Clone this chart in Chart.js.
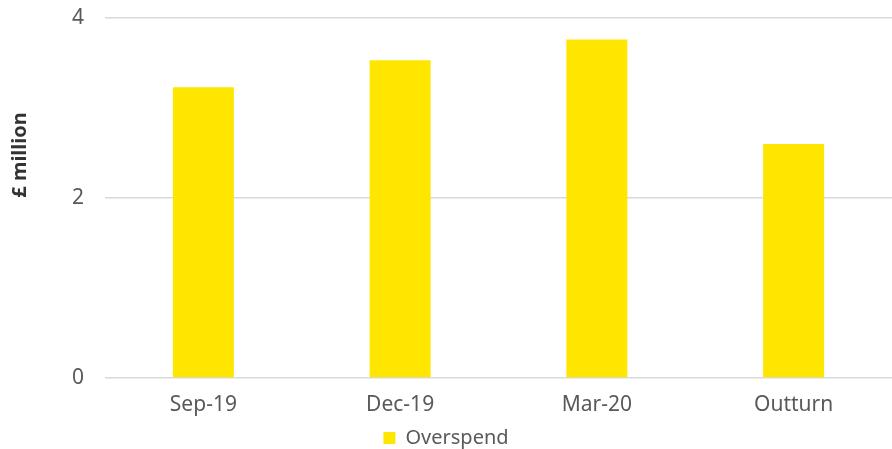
<!DOCTYPE html>
<html>
<head>
<meta charset="utf-8">
<script src="https://cdn.jsdelivr.net/npm/chart.js@4"></script>
<style>
  html, body { margin: 0; padding: 0; background: #fff; }
  #wrap { width: 892px; height: 449px; }
</style>
</head>
<body>
<div id="wrap"><canvas id="overspendChart"></canvas></div>
<script>
const categories = ['Sep-19', 'Dec-19', 'Mar-20', 'Outturn'];
const overspend = [3.23, 3.53, 3.76, 2.6];
const yTicks = [0, 2, 4];
const yTitle = '£ million';

const textGrey = '#595959';
const fontFamily = "'Noto Sans', 'DejaVu Sans', sans-serif";

// y title sits higher than the axis centre in the original, so draw it by hand
const yTitlePlugin = {
    id: 'yTitle',
    afterDraw(chart) {
        const c = chart.ctx;
        c.save();
        c.translate(20, 155);
        c.rotate(-Math.PI / 2);
        c.fillStyle = '#333333';
        c.font = `bold 20px ${fontFamily}`;
        c.textAlign = 'center';
        c.textBaseline = 'middle';
        c.fillText(yTitle, 0, 0);
        c.restore();
    },
};

// keep the legend strip short so the plot reaches down like the original
const legendHeightPlugin = {
    id: 'legendHeight',
    beforeInit(chart) {
        const origFit = chart.legend.fit;
        chart.legend.fit = function () {
            origFit.bind(chart.legend)();
            this.height = 31;
        };
    },
};

const ctx = document.getElementById('overspendChart').getContext('2d');

new Chart(ctx, {
    type: 'bar',
    data: {
        labels: categories,
        datasets: [
            {
                label: 'Overspend',
                data: overspend,
                backgroundColor: '#FFE600',
                categoryPercentage: 1,
                barPercentage: 0.31,
            },
        ],
    },
    plugins: [yTitlePlugin, legendHeightPlugin],
    options: {
        responsive: true,
        maintainAspectRatio: false,
        animation: false,
        layout: { padding: 0 },
        plugins: {
            tooltip: { enabled: false },
            legend: {
                position: 'bottom',
                labels: {
                    color: textGrey,
                    font: { family: fontFamily, size: 20 },
                    boxWidth: 12,
                    boxHeight: 12,
                    padding: 10,
                    useBorderRadius: false,
                },
            },
        },
        scales: {
            x: {
                afterFit: (axis) => { axis.height = 40; },
                grid: { display: false },
                border: { display: false },
                ticks: {
                    color: textGrey,
                    font: { family: fontFamily, size: 21, lineHeight: 1 },
                    padding: 9,
                },
            },
            y: {
                min: 0,
                max: 4,
                afterBuildTicks: (axis) => {
                    axis.ticks = yTicks.map(v => ({ value: v }));
                },
                afterFit: (axis) => {
                    axis.width = 105;
                    axis.paddingTop = 18;
                    axis.paddingBottom = 0;
                },
                grid: {
                    color: '#d9d9d9',
                    lineWidth: 1.5,
                    drawTicks: false,
                },
                border: { display: false },
                ticks: {
                    color: textGrey,
                    font: { family: fontFamily, size: 21, lineHeight: 1 },
                    padding: 21,
                },
            },
        },
    },
});
</script>
</body>
</html>
